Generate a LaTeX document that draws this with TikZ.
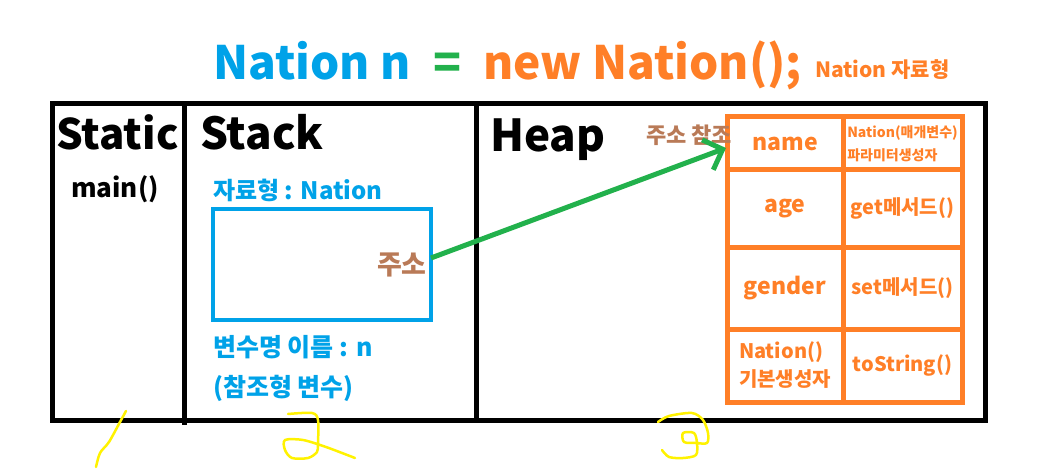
\documentclass[tikz,border=0pt]{standalone}
\usepackage{fontspec}
\setmainfont{Noto Sans CJK KR}
\usetikzlibrary{arrows.meta}

\definecolor{pblue}{HTML}{00A2E8}
\definecolor{porange}{HTML}{FF7F27}
\definecolor{pgreen}{HTML}{22B14C}
\definecolor{pbrown}{HTML}{B97A57}
\definecolor{pyellow}{HTML}{FFF200}

\tikzset{
  big/.style={font=\fontsize{#1}{#1}\selectfont\bfseries, inner sep=0pt, anchor=base west},
  txt/.style={font=\fontsize{#1}{#1}\selectfont\bfseries, inner sep=0pt},
  cell/.style={draw=porange, line width=5pt, text=porange, inner sep=0pt, align=center},
  scribble/.style={pyellow, line width=2.5pt, line cap=round, line join=round},
}

\begin{document}
\begin{tikzpicture}[x=1pt, y=-1pt]
\useasboundingbox (0,0) rectangle (1045,476);

  % Declaration
  \node[big=46, pblue] (decl) at (213,80) {Nation n};
  \node[big=46, pgreen] (eq) at (433,80) {=};
  \node[big=46, porange] (newobj) at (483,80) {new Nation();};
  \node[txt=21, porange, anchor=base west] (kind) at (815,78) {Nation 자료형};

  % Memory areas
  \draw[line width=5pt] (52,103.5) rectangle (985,420);
  \draw[line width=5pt] (184,103.5) -- (184,425);
  \draw[line width=5pt] (476.5,103.5) -- (476.5,420);

  \node[big=42] (static) at (56,150) {Static};
  \node[big=44] (stack) at (200,150) {Stack};
  \node[big=44] (heap) at (490,152) {Heap};
  \node[txt=26, anchor=base] (main) at (115,197) {main()};

  % Stack variable
  \node[txt=24, pblue, anchor=west] (type) at (213,190) {자료형 : Nation};
  \node[draw=pblue, line width=4pt, minimum width=218pt, minimum height=111pt] (varbox) at (322,264.5) {};
  \node[txt=27, pbrown, anchor=east] (addr) at (427,265) {주소};
  \node[txt=25, pblue, anchor=west] (varname) at (213,347) {변수명 이름 : n};
  \node[txt=25, pblue, anchor=west] (reftype) at (213,388) {(참조형 변수)};

  % Heap object
  \node[cell, minimum width=116pt, minimum height=53pt, txt=23] (name) at (785,143.5) {name};
  \node[cell, minimum width=119pt, minimum height=53pt, align=left,
        font=\fontsize{14}{23}\selectfont\bfseries] (ctor) at (902.5,143.5) {Nation(매개변수)\\파라미터생성자};
  \node[cell, minimum width=116pt, minimum height=77pt, txt=23] (age) at (785,208.5) {age};
  \node[cell, minimum width=119pt, minimum height=77pt, txt=20] (getter) at (902.5,208.5) {get메서드()};
  \node[cell, minimum width=116pt, minimum height=82pt, txt=23] (gender) at (785,288) {gender};
  \node[cell, minimum width=119pt, minimum height=82pt, txt=20] (setter) at (902.5,288) {set메서드()};
  \node[cell, minimum width=116pt, minimum height=73pt, align=left,
        font=\fontsize{20}{28}\selectfont\bfseries] (defctor) at (785,365.5) {Nation()\\기본생성자};
  \node[cell, minimum width=119pt, minimum height=73pt, txt=20] (tostr) at (902.5,365.5) {toString()};

  \node[txt=22, pbrown, anchor=west] (refnote) at (646,135) {주소 참조};

  % Reference
  \coordinate (addrout) at (431,258);
  \coordinate (reftip) at (726,148);
  \draw[pgreen, line width=5pt, -{Straight Barb[length=16pt, width=32pt]}] (addrout) -- (reftip);

  % Numbers
  \draw[scribble] plot[smooth] coordinates {(126,411) (120,422) (109,442) (100,453) (96,467)};
  \draw[scribble] plot[smooth] coordinates {(288,414) (312,413) (318,420) (318,443) (317,452) (308,458) (292,458) (285,450) (285,440) (303,440) (326,447) (355,458)};
  \draw[scribble] plot[smooth] coordinates {(658,422) (669,416) (692,413) (703,420) (708,433) (707,443) (696,443) (684,442) (683,433) (694,433) (697,443) (696,455) (683,458) (669,457) (662,450)};
\end{tikzpicture}
\end{document}
